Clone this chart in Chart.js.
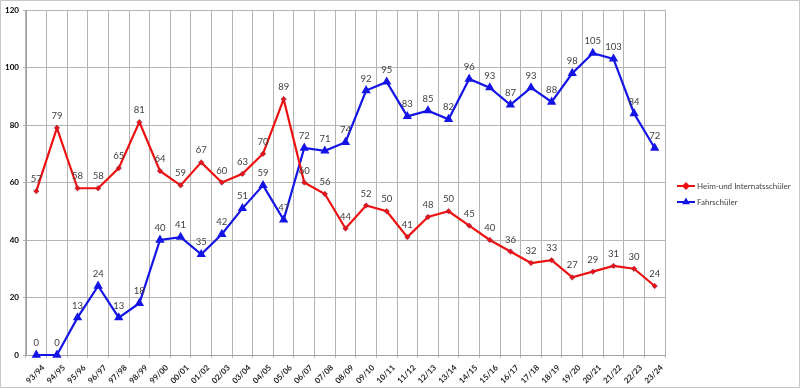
<!DOCTYPE html>
<html><head><meta charset="utf-8">
<script src="https://cdn.jsdelivr.net/npm/chart.js@4"></script>
<style>html,body{margin:0;padding:0;background:#fff}#w{width:800px;height:388px}</style>
</head><body><div id="w"><canvas id="c" width="800" height="388"></canvas></div>
<script>
const categories = ["93/94","94/95","95/96","96/97","97/98","98/99","99/00","00/01","01/02","02/03","03/04","04/05","05/06","06/07","07/08","08/09","09/10","10/11","11/12","12/13","13/14","14/15","15/16","16/17","17/18","18/19","19/20","20/21","21/22","22/23","23/24"];
const heimValues = [57,79,58,58,65,81,64,59,67,60,63,70,89,60,56,44,52,50,41,48,50,45,40,36,32,33,27,29,31,30,24];
const fahrValues = [0,0,13,24,13,18,40,41,35,42,51,59,47,72,71,74,92,95,83,85,82,96,93,87,93,88,98,105,103,84,72];
const yTicks = [0,20,40,60,80,100,120];
const seriesNames = ["Heim-und Internatsschüler","Fahrschüler"];

const FONT = "Lato, 'Liberation Sans', sans-serif";
const RED = '#ee1111', BLUE = '#1414e6';

const framePlugin = {
  id:'frame',
  beforeDraw(chart){
    const c = chart.ctx;
    c.save();
    c.fillStyle='#fff'; c.fillRect(0,0,chart.width,chart.height);
    c.strokeStyle='#c8c8c8'; c.lineWidth=1;
    c.strokeRect(0.5,0.5,chart.width-1,chart.height-1);
    c.restore();
  },
  afterDatasetsDraw(chart){
    const c = chart.ctx;
    c.save();
    c.font = "9.5px " + FONT;
    c.fillStyle = '#404040';
    c.textAlign='center'; c.textBaseline='middle';
    chart.data.datasets.forEach((ds,i)=>{
      chart.getDatasetMeta(i).data.forEach((el,j)=>{
        c.fillText(String(ds.data[j]), el.x, el.y-12);
      });
    });
    // legend
    const lx = 677, ly0 = 186, dy = 16;
    chart.data.datasets.forEach((ds,i)=>{
      const y = ly0 + i*dy;
      c.strokeStyle = ds.borderColor; c.lineWidth = 2;
      c.beginPath(); c.moveTo(lx,y); c.lineTo(lx+18,y); c.stroke();
      c.fillStyle = ds.borderColor;
      c.beginPath();
      Chart.helpers.drawPoint(c,{pointStyle:ds.pointStyle,radius:2.5,borderWidth:1},lx+9,y);
      c.fill();
      c.fillStyle='#404040'; c.font = "8px " + FONT; c.textAlign='left';
      c.fillText(ds.label, lx+20, y);
    });
    c.restore();
  }
};

new Chart(document.getElementById('c'), {
  type:'line',
  data:{
    labels: categories,
    datasets:[
      {label:seriesNames[0], data:heimValues, borderColor:RED, backgroundColor:RED, pointStyle:'rectRot', pointRadius:2.7, pointBorderColor:'#8a2a55', pointBorderWidth:0.6, pointBackgroundColor:RED, borderWidth:2.2, tension:0},
      {label:seriesNames[1], data:fahrValues, borderColor:BLUE, backgroundColor:BLUE, pointStyle:'triangle', pointRadius:3.2, pointBorderColor:BLUE, pointBackgroundColor:BLUE, borderWidth:2.2, tension:0}
    ]
  },
  options:{
    responsive:false, animation:false, clip:false,
    layout:{padding:{left:0,right:135,top:10,bottom:0}},
    plugins:{legend:{display:false}, tooltip:{enabled:false}},
    scales:{
      x:{
        offset:true,
        grid:{offset:true, color:'#b4b4b4', lineWidth:1, tickLength:3, drawTicks:true},
        border:{color:'#a0a0a0'},
        ticks:{maxRotation:45, minRotation:45, autoSkip:false, font:{family:FONT,size:8,weight:'bold'}, color:'#262626', padding:5, labelOffset:7},
        afterFit(s){ s.height = 33; }
      },
      y:{
        min:0, max:120,
        afterBuildTicks(s){ s.ticks = yTicks.map(v=>({value:v})); },
        grid:{color:'#b4b4b4', tickLength:3},
        border:{color:'#a0a0a0'},
        ticks:{font:{family:FONT,size:8,weight:'bold'}, color:'#000', padding:4},
        afterFit(s){ s.width = 26; }
      }
    }
  },
  plugins:[framePlugin]
});
</script></body></html>
